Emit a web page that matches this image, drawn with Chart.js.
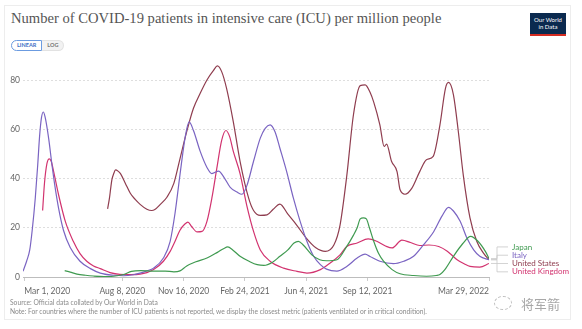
<!DOCTYPE html>
<html>
<head>
<meta charset="utf-8">
<script src="https://cdn.jsdelivr.net/npm/chart.js@4.4.0/dist/chart.umd.min.js"></script>
<style>
    body { margin: 0; width: 582px; height: 329px; background: #fff; overflow: hidden; position: relative; font-family: Lato, sans-serif; }
    .card { position: absolute; left: 4px; top: 5px; width: 567px; height: 315px; border: 1px solid #ededed; box-sizing: border-box; }
    #titulo { position: absolute; left: 11px; top: 10px; font: 14.6px "Liberation Serif", serif; color: #555; white-space: nowrap; }
    .botoes { position: absolute; left: 11px; top: 40px; display: flex; font: bold 5.5px Lato, sans-serif; }
    .botoes span { display: inline-block; height: 9px; line-height: 9px; padding: 0 5px; border: 1px solid #e2e2e2; background: #f2f2f2; color: #777; }
    .botoes .ativo { border-color: #6b9be0; background: #fff; color: #3b6fc4; border-radius: 6px 0 0 6px; }
    .botoes .fim { border-radius: 0 6px 6px 0; border-left: none; }
    .logo { position: absolute; left: 530px; top: 13px; width: 36px; background: #0b2a4f; border-bottom: 2px solid #d42b21; color: #fff; font: 6px Lato, sans-serif; line-height: 7px; text-align: center; padding-top: 3px; height: 18px; }
    #grafico-box { position: absolute; left: 0; top: 0; width: 582px; height: 329px; }
    .rodape { position: absolute; left: 10px; top: 298px; font: 6.7px Lato, sans-serif; color: #8a8a8a; line-height: 9px; white-space: nowrap; }
    .marca { position: absolute; left: 521px; top: 294px; font: 13px "Noto Sans CJK SC", sans-serif; color: #a8a8a8; }
    .icone { position: absolute; left: 494px; top: 296px; width: 16px; height: 12px; border: 1px dashed #bbb; border-radius: 50%; }
</style>
</head>
<body>
<div class="card"></div>
<div id="titulo">Number of COVID-19 patients in intensive care (ICU) per million people</div>
<div class="botoes"><span class="ativo">LINEAR</span><span class="fim">LOG</span></div>
<div class="logo">Our World<br>in Data</div>
<div id="grafico-box"><canvas id="grafico"></canvas></div>
<div class="rodape">Source: Official data collated by Our World in Data<br>Note: For countries where the number of ICU patients is not reported, we display the closest metric (patients ventilated or in critical condition).</div>
<div class="icone"></div>
<div class="marca">将军箭</div>

<script>
// dias contados a partir de 1 de março de 2020
const paises = ["Japan", "Italy", "United States", "United Kingdom"];
const cores = ["#3f9a50", "#7a64c2", "#8f3d4f", "#d2336f"];

const japaoDias = [66, 75, 86, 100, 113, 130, 146, 162, 175, 190, 210, 230, 244, 254, 265, 280, 298, 315, 325, 332, 340, 352, 368, 380, 391, 405, 417, 430, 440, 447, 455, 469, 482, 493, 510, 525, 537, 543, 548, 553, 558, 563, 570, 578, 586, 600, 613, 635, 656, 672, 678, 686, 700, 715, 728, 740, 752, 758];
const japaoValores = [2.6, 2, 1.2, 0.7, 0.4, 0.2, 0.3, 1, 2.3, 2.6, 2.4, 2.4, 2.1, 2.5, 4.5, 6.2, 7.7, 10, 11.5, 12.2, 11, 8.4, 6.2, 5, 4.7, 6, 8.4, 11, 13.8, 14.5, 13, 9, 7, 6.6, 7, 12, 17, 20, 23.6, 24, 23.6, 20, 14.5, 9.5, 6.4, 3, 1.3, 0.6, 0.3, 0.6, 1, 3, 8.4, 13.5, 16.5, 14.5, 10.4, 7.5];

const italiaDias = [-2, 4, 9, 13, 18, 22, 25, 28, 31, 34, 40, 45, 50, 56, 64, 75, 91, 108, 124, 146, 162, 178, 189, 200, 211, 227, 238, 246, 254, 263, 269, 276, 287, 298, 306, 317, 325, 336, 347, 355, 363, 374, 385, 393, 401, 409, 417, 428, 439, 450, 461, 472, 483, 493, 510, 526, 543, 556, 564, 580, 602, 619, 635, 651, 668, 681, 692, 700, 711, 722, 733, 743, 758];
const italiaValores = [2.3, 6.5, 11, 19, 32, 45.5, 57, 64.5, 67, 65, 56, 46, 37, 28, 19, 12, 6.4, 3.4, 1.6, 0.7, 0.5, 0.9, 1.6, 2.5, 3.6, 7.7, 14.5, 26, 41.5, 57.5, 63, 59.5, 51, 44.5, 42, 43, 40.8, 36.4, 34.5, 33.6, 37, 47, 56.4, 60.4, 61.8, 59, 52.3, 42.8, 32, 22.6, 14.5, 8.4, 5, 3.2, 2.4, 4.3, 7.7, 9.3, 8.3, 6.4, 5.4, 6.4, 8.4, 13, 18.5, 24.6, 28.3, 26.8, 22.6, 15.8, 11, 8.4, 7];

const euaDias = [136, 139, 141, 143, 146, 149, 153, 157, 165, 173, 181, 189, 200, 208, 213, 222, 233, 244, 254, 265, 276, 287, 298, 309, 315, 322, 330, 341, 352, 366, 374, 385, 396, 406, 417, 430, 444, 460, 475, 491, 505, 515, 526, 537, 548, 556, 564, 570, 580, 587, 591, 599, 608, 613, 621, 632, 645, 656, 667, 678, 687, 692, 700, 708, 716, 727, 738, 749, 758];
const euaValores = [27.7, 32, 36, 39.5, 42, 43.5, 43, 42, 38, 34, 31.5, 29.5, 27.5, 27, 27.4, 29.5, 32.5, 38, 48, 59, 68.5, 74.6, 80, 84, 85.7, 83.4, 76.6, 63, 47, 32, 27, 25, 25.2, 27.5, 29.6, 25.5, 21.2, 15.8, 12, 10.4, 13, 21, 41, 66, 77.7, 78, 75, 71, 61.8, 53, 54, 47, 42.8, 35.4, 33.6, 36, 42.8, 47.6, 49, 61.8, 76.6, 79, 74, 59, 41.5, 24, 14.5, 9.7, 7];

const ukDias = [30, 33, 37, 41, 44, 48, 56, 67, 80, 91, 102, 113, 124, 140, 156, 175, 189, 200, 211, 227, 238, 246, 254, 262, 267, 273, 282, 290, 298, 306, 314, 322, 329, 335, 341, 352, 363, 374, 385, 401, 423, 445, 461, 483, 499, 515, 526, 543, 561, 575, 590, 600, 616, 630, 645, 660, 676, 690, 706, 718, 727, 743, 758];
const ukValores = [27, 38, 46, 48, 47, 42.8, 33.4, 22.6, 14.5, 9.5, 6.4, 4.5, 3.4, 1.8, 1.1, 1, 1.2, 1.8, 3, 6.4, 10.4, 14.5, 19, 21.5, 22.3, 20.5, 18.3, 18.5, 22.6, 32, 44, 55.5, 59.5, 57, 51, 42, 29, 18.5, 11, 6.4, 3.6, 2.3, 1.6, 3, 5.7, 9, 12.4, 13.8, 15.5, 14.5, 12.5, 11.8, 15, 14, 12.8, 13, 12.4, 10.5, 7, 5.3, 4.3, 4, 5.5];

const yTicks = [0, 20, 40, 60, 80];
const xTickDias = [0, 160, 260, 360, 460, 560, 758];
const xTickLabels = ["Mar 1, 2020", "Aug 8, 2020", "Nov 16, 2020", "Feb 24, 2021", "Jun 4, 2021", "Sep 12, 2021", "Mar 29, 2022"];

const series = [
    [japaoDias, japaoValores],
    [italiaDias, italiaValores],
    [euaDias, euaValores],
    [ukDias, ukValores]
];

// --- rótulos no fim das linhas, estilo OWID ---
const rotulosFinais = {
    id: 'rotulosFinais',
    afterDatasetsDraw(chart) {
        const ctx = chart.ctx;
        const area = chart.chartArea;
        const fins = chart.data.datasets.map((d, i) => {
            const pts = chart.getDatasetMeta(i).data;
            return pts[pts.length - 1];
        });
        const meio = fins.reduce((a, p) => a + p.y, 0) / fins.length;
        ctx.save();
        ctx.font = '8px Lato';
        ctx.textBaseline = 'middle';
        fins.forEach((p, i) => {
            const ly = meio + (i - 1.5) * 8.3 - 1;
            ctx.strokeStyle = '#c8c8c8';
            ctx.lineWidth = 0.8;
            ctx.beginPath();
            ctx.moveTo(p.x + 2, p.y);
            ctx.lineTo(area.right + 8, p.y);
            ctx.lineTo(area.right + 8, ly);
            ctx.lineTo(area.right + 19, ly);
            ctx.stroke();
            ctx.fillStyle = cores[i];
            ctx.fillText(paises[i], area.right + 23, ly);
        });
        ctx.restore();
    }
};

new Chart(document.getElementById('grafico'), {
    type: 'line',
    data: {
        datasets: series.map((s, i) => ({
            label: paises[i],
            data: s[0].map((d, j) => ({ x: d, y: s[1][j] })),
            borderColor: cores[i],
            borderWidth: 1.2,
            pointRadius: 0,
            cubicInterpolationMode: 'monotone',
            fill: false
        }))
    },
    options: {
        responsive: true,
        maintainAspectRatio: false,
        animation: false,
        layout: { padding: { left: 0, top: 64, right: 93, bottom: 32 } },
        plugins: { legend: { display: false }, tooltip: { enabled: false } },
        scales: {
            x: {
                type: 'linear',
                min: -2,
                max: 758,
                afterBuildTicks: s => { s.ticks = xTickDias.map(v => ({ value: v })); },
                afterFit: s => { s.height = 20; },
                ticks: {
                    align: 'inner',
                    autoSkip: false,
                    maxRotation: 0,
                    padding: 5,
                    color: '#666',
                    font: { family: 'Lato', size: 8.5 },
                    callback: (v) => xTickLabels[xTickDias.indexOf(v)]
                },
                grid: { drawOnChartArea: false, tickLength: 4, color: '#ccc' },
                border: { color: '#bdbdbd' }
            },
            y: {
                min: 0,
                max: 86.5,
                afterBuildTicks: s => { s.ticks = yTicks.map(v => ({ value: v })); },
                afterFit: s => { s.width = 23; },
                ticks: { color: '#666', padding: 3, font: { family: 'Lato', size: 8.5 } },
                grid: { color: '#dedede', drawTicks: false },
                border: { display: false, dash: [2, 2] }
            }
        }
    },
    plugins: [rotulosFinais]
});
</script>
</body>
</html>
